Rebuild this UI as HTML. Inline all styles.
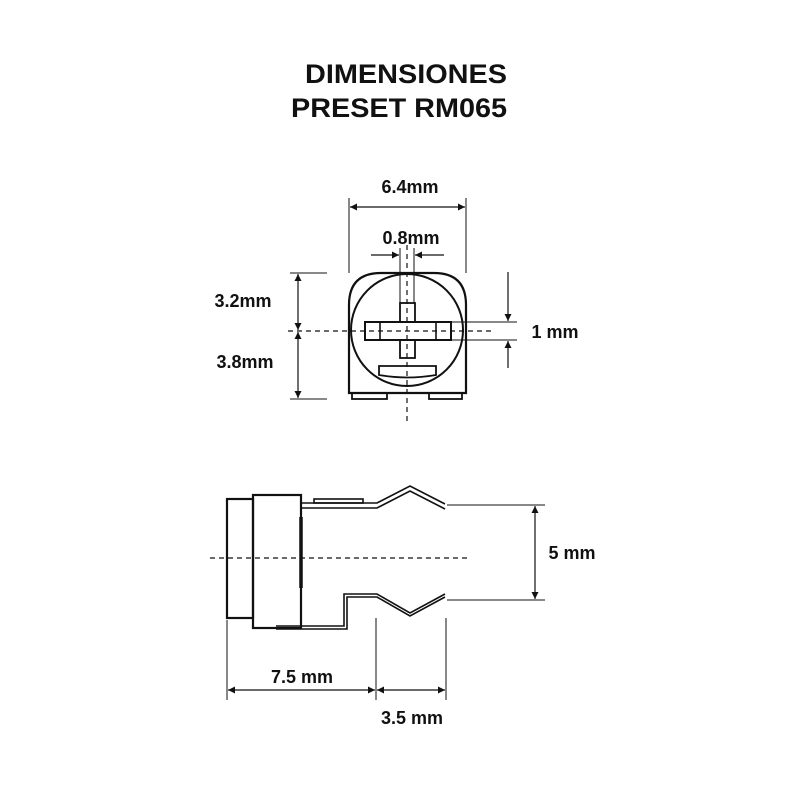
<!DOCTYPE html>
<html><head><meta charset="utf-8"><style>
html,body{margin:0;padding:0;background:#fff;}
svg{display:block;}
text{font-family:"Liberation Sans",sans-serif;font-weight:bold;fill:#111;}
</style></head><body>
<svg width="800" height="800" viewBox="0 0 800 800" xmlns="http://www.w3.org/2000/svg">
<defs>
<marker id="a" viewBox="0 0 10 10" refX="10" refY="5" markerWidth="10" markerHeight="7" orient="auto-start-reverse" markerUnits="userSpaceOnUse"><path d="M0,0 L10,5 L0,10 z" fill="#111"/></marker>
</defs>
<text x="305" y="83" font-size="27" textLength="202" lengthAdjust="spacingAndGlyphs">DIMENSIONES</text>
<text x="291" y="117" font-size="27" textLength="216" lengthAdjust="spacingAndGlyphs">PRESET RM065</text>

<g stroke="#111" fill="none">
<path d="M349,393 L349,305 Q349,273 381,273 L434,273 Q466,273 466,305 L466,393 Z" stroke-width="2.2"/>
<rect x="352" y="393" width="35" height="6" stroke-width="1.8"/>
<rect x="429" y="393" width="33" height="6" stroke-width="1.8"/>
<circle cx="407" cy="330" r="56" stroke-width="2"/>
<rect x="365" y="322" width="86" height="18" stroke-width="2" fill="#fff"/>
<line x1="380" y1="322" x2="380" y2="340" stroke-width="1.6"/>
<line x1="436" y1="322" x2="436" y2="340" stroke-width="1.6"/>
<rect x="400" y="303" width="15" height="19" stroke-width="1.8"/>
<rect x="400" y="340" width="15" height="18" stroke-width="1.8"/>
<path d="M379,366 L436,366 L436,375 Q407,380 379,375 Z" stroke-width="1.8"/>
<line x1="407" y1="245" x2="407" y2="422" stroke-width="1.2" stroke-dasharray="5,4"/>
<line x1="288" y1="331" x2="492" y2="331" stroke-width="1.2" stroke-dasharray="5,4"/>
<line x1="349" y1="198" x2="349" y2="273" stroke-width="1"/>
<line x1="466" y1="198" x2="466" y2="273" stroke-width="1"/>
<line x1="350" y1="207" x2="465" y2="207" stroke-width="1.2" marker-start="url(#a)" marker-end="url(#a)"/>
<line x1="400" y1="248" x2="400" y2="303" stroke-width="1"/>
<line x1="414" y1="248" x2="414" y2="303" stroke-width="1"/>
<line x1="371" y1="255" x2="399" y2="255" stroke-width="1.2" marker-end="url(#a)"/>
<line x1="444" y1="255" x2="415" y2="255" stroke-width="1.2" marker-end="url(#a)"/>
<line x1="290" y1="273" x2="327" y2="273" stroke-width="1"/>
<line x1="290" y1="399" x2="327" y2="399" stroke-width="1"/>
<line x1="298" y1="274" x2="298" y2="330" stroke-width="1.2" marker-start="url(#a)" marker-end="url(#a)"/>
<line x1="298" y1="332" x2="298" y2="398" stroke-width="1.2" marker-start="url(#a)" marker-end="url(#a)"/>
<line x1="451" y1="322" x2="517" y2="322" stroke-width="1"/>
<line x1="451" y1="340" x2="517" y2="340" stroke-width="1"/>
<line x1="508" y1="272" x2="508" y2="321" stroke-width="1.2" marker-end="url(#a)"/>
<line x1="508" y1="368" x2="508" y2="341" stroke-width="1.2" marker-end="url(#a)"/>

<rect x="227" y="499" width="26" height="119" stroke-width="2.2"/>
<rect x="253" y="495" width="48" height="133" stroke-width="2.2"/>
<line x1="301" y1="517" x2="301" y2="588" stroke-width="3.5"/>
<rect x="314" y="499" width="49" height="4" stroke-width="1.6"/>
<path d="M301,503 L377,503 L410,486 L445,504" stroke-width="1.6"/>
<path d="M301,508 L377,508 L410,491 L445,509" stroke-width="1.6"/>
<path d="M276,629 L347,629 L347,597 L377,597 L410,616 L445,597" stroke-width="1.6"/>
<path d="M276,626 L344,626 L344,594 L377,594 L410,613 L445,594" stroke-width="1.6"/>
<line x1="210" y1="558" x2="470" y2="558" stroke-width="1.2" stroke-dasharray="5,4"/>
<line x1="447" y1="505" x2="545" y2="505" stroke-width="1"/>
<line x1="447" y1="600" x2="545" y2="600" stroke-width="1"/>
<line x1="535" y1="506" x2="535" y2="599" stroke-width="1.2" marker-start="url(#a)" marker-end="url(#a)"/>
<line x1="227" y1="620" x2="227" y2="700" stroke-width="1"/>
<line x1="376" y1="618" x2="376" y2="700" stroke-width="1"/>
<line x1="446" y1="618" x2="446" y2="700" stroke-width="1"/>
<line x1="228" y1="690" x2="375" y2="690" stroke-width="1.2" marker-start="url(#a)" marker-end="url(#a)"/>
<line x1="377" y1="690" x2="445" y2="690" stroke-width="1.2" marker-start="url(#a)" marker-end="url(#a)"/>
</g>

<text x="410" y="193" font-size="18" text-anchor="middle">6.4mm</text>
<text x="411" y="244" font-size="18" text-anchor="middle">0.8mm</text>
<text x="243" y="307" font-size="18" text-anchor="middle">3.2mm</text>
<text x="245" y="368" font-size="18" text-anchor="middle">3.8mm</text>
<text x="555" y="338" font-size="18" text-anchor="middle">1 mm</text>
<text x="572" y="559" font-size="18" text-anchor="middle">5 mm</text>
<text x="302" y="683" font-size="18" text-anchor="middle">7.5 mm</text>
<text x="412" y="724" font-size="18" text-anchor="middle">3.5 mm</text>
</svg>
</body></html>
